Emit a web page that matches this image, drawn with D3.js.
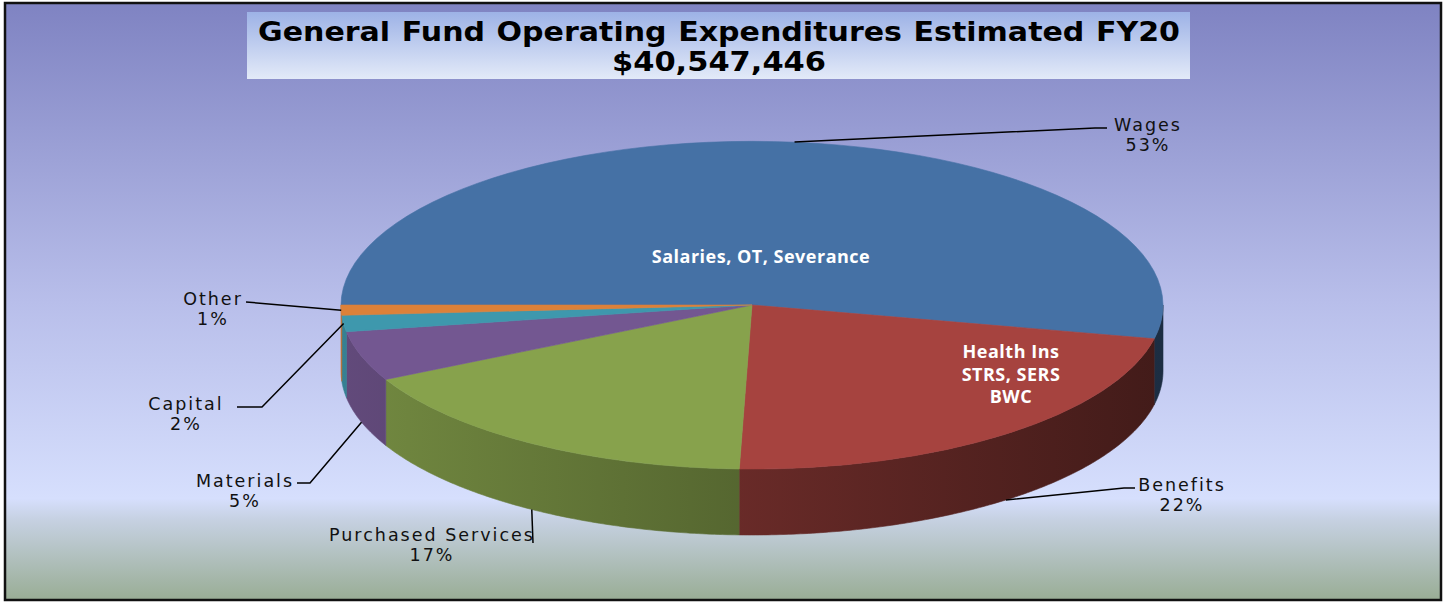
<!DOCTYPE html>
<meta charset="utf-8">
<style>
  body { margin: 0; background: #fff; }
  .leaders path { fill: none; stroke: #000; stroke-width: 1.5px; }
  .labels text { font-family: "DejaVu Sans", sans-serif; font-size: 17.5px; letter-spacing: 2px; fill: #111; text-anchor: middle; }
  .notes text { font-family: "Open Sans", sans-serif; font-weight: bold; font-size: 18px; letter-spacing: 0.5px; fill: #fff; text-anchor: middle; }
  .title text { font-family: "DejaVu Sans", sans-serif; font-weight: bold; font-size: 27px; word-spacing: 1px; fill: #000; text-anchor: middle; }
</style>
<svg width="1445" height="603"></svg>
<script src="https://cdn.jsdelivr.net/npm/d3@7"></script>
<script>

  // data (share of total, in %)
  var categories = ["Wages", "Benefits", "Purchased Services", "Materials", "Capital", "Other"];
  var shares = [53.3, 22.2, 17.0, 4.9, 1.6, 1.0];
  var colors = ["#4571a5", "#a6433f", "#87a24c", "#735791", "#3e98ad", "#dc8139"];
  var notes = [["Salaries, OT, Severance"], ["Health Ins", "STRS, SERS", "BWC"], [], [], [], []];
  var titleLines = ["General Fund Operating Expenditures Estimated FY20", "$40,547,446"];

  var svg = d3.select("svg"),
        width = +svg.attr("width"),
        height = +svg.attr("height");

  // 3d pie geometry
  var cx = 752, cy = 305, rx = 411, ry = 164, depth = 66;

  // label placement (layout only)
  var labelLayout = [
    {x: 1147, y: 131, dz: 0, elbow: [1095, 128], end: [1107, 128]},
    {x: 1181, y: 491, dz: 1, elbow: [1124, 488], end: [1135, 488]},
    {x: 431, y: 541, dz: 1, elbow: null, end: [533, 543]},
    {x: 244, y: 487, dz: 1, elbow: [310, 483], end: [297, 483]},
    {x: 185, y: 410, dz: 0, elbow: [262, 407], end: [237, 407]},
    {x: 212, y: 305, dz: 0, elbow: null, end: [246, 302]}
  ];
  var noteLayout = [{x: 761, y: 263}, {x: 1011, y: 358}];

  var defs = svg.append("defs");

  function vgrad(id, stops) {
    var g = defs.append("linearGradient").attr("id", id)
          .attr("x1", 0).attr("y1", 0).attr("x2", 0).attr("y2", 1);
    stops.forEach(function (s) {
      g.append("stop").attr("offset", s[0]).attr("stop-color", s[1]);
    });
  }
  vgrad("bg", [[0, "#7f83c2"], [0.5, "#b8beea"], [0.83, "#d6dffd"], [0.865, "#c6d1e2"], [1, "#99ad95"]]);
  vgrad("titlebg", [[0, "#9db2e6"], [1, "#e3eaf8"]]);

  // background + frame
  svg.append("rect")
        .attr("x", 5).attr("y", 3)
        .attr("width", width - 9).attr("height", height - 6)
        .attr("fill", "url(#bg)")
        .attr("stroke", "#111")
        .attr("stroke-width", 2.5);

  function shade(c, f) {
    var r = d3.rgb(c);
    return d3.rgb(r.r * f, r.g * f, r.b * f).formatHex();
  }

  var pie = d3.pie().sort(null)
        .startAngle(-Math.PI / 2)
        .endAngle(1.5 * Math.PI);
  var arcs = pie(shares);

  // d3 angle (0 = 12 o'clock, clockwise) -> point on the tilted ellipse
  function pt(a, r, dz) {
    return [cx + rx * r * Math.sin(a), cy - ry * r * Math.cos(a) + dz];
  }

  // front walls
  var line = d3.line();
  var walls = svg.append("g").attr("class", "walls");
  arcs.forEach(function (d, i) {
    var a0 = Math.max(d.startAngle, Math.PI / 2),
          a1 = Math.min(d.endAngle, 1.5 * Math.PI);
    if (a1 <= a0) return;

    var g = defs.append("linearGradient").attr("id", "wall" + i)
          .attr("gradientUnits", "userSpaceOnUse")
          .attr("x1", cx - rx).attr("y1", 0).attr("x2", cx + rx).attr("y2", 0);
    g.append("stop").attr("offset", 0).attr("stop-color", shade(colors[i], 0.85));
    g.append("stop").attr("offset", 1).attr("stop-color", shade(colors[i], 0.40));

    var n = Math.max(2, Math.ceil((a1 - a0) / 0.01));
    var top = d3.range(n + 1).map(function (k) { return pt(a0 + (a1 - a0) * k / n, 1, 0); });
    var bottom = top.map(function (p) { return [p[0], p[1] + depth]; }).reverse();

    walls.append("path")
          .attr("d", line(top.concat(bottom)) + "Z")
          .attr("fill", "url(#wall" + i + ")")
          .attr("stroke", "url(#wall" + i + ")")
          .attr("stroke-width", 0.6);
  });

  // top faces: unit arcs squashed into the ellipse
  var arc = d3.arc().innerRadius(0).outerRadius(1);
  svg.append("g")
        .attr("transform", "translate(" + cx + "," + cy + ") scale(" + rx + "," + ry + ")")
        .selectAll("path")
        .data(arcs)
        .enter().append("path")
        .attr("d", arc)
        .attr("fill", function (d, i) { return colors[i]; })
        .attr("stroke", function (d, i) { return colors[i]; })
        .attr("stroke-width", 0.6)
        .attr("vector-effect", "non-scaling-stroke");

  // notes inside slices
  var noteG = svg.append("g").attr("class", "notes");
  noteLayout.forEach(function (p, i) {
    var t = noteG.append("text").attr("x", p.x).attr("y", p.y);
    notes[i].forEach(function (s, k) {
      t.append("tspan").attr("x", p.x).attr("dy", k ? 22.5 : 0).text(s);
    });
  });

  // leader lines
  var leaders = svg.append("g").attr("class", "leaders");
  arcs.forEach(function (d, i) {
    var L = labelLayout[i];
    var mid = (d.startAngle + d.endAngle) / 2;
    var pts = [pt(mid, 1, L.dz * depth)];
    if (L.elbow) pts.push(L.elbow);
    pts.push(L.end);
    leaders.append("path").attr("d", line(pts));
  });

  // category labels
  var pct = d3.format(".0%");
  var total = d3.sum(shares);
  var labels = svg.append("g").attr("class", "labels");
  arcs.forEach(function (d, i) {
    var L = labelLayout[i];
    var t = labels.append("text").attr("x", L.x + 1).attr("y", L.y);
    t.append("tspan").attr("x", L.x + 1).text(categories[i]);
    t.append("tspan").attr("x", L.x + 1).attr("dy", 20).text(pct(shares[i] / total));
  });

  // title box
  var title = svg.append("g").attr("class", "title");
  title.append("rect")
        .attr("x", 247).attr("y", 12)
        .attr("width", 943).attr("height", 67)
        .attr("fill", "url(#titlebg)");
  title.append("text").attr("x", 719).attr("y", 41)
        .attr("textLength", 922).attr("lengthAdjust", "spacingAndGlyphs")
        .text(titleLines[0]);
  title.append("text").attr("x", 719).attr("y", 71)
        .attr("textLength", 214).attr("lengthAdjust", "spacingAndGlyphs")
        .text(titleLines[1]);

</script>
